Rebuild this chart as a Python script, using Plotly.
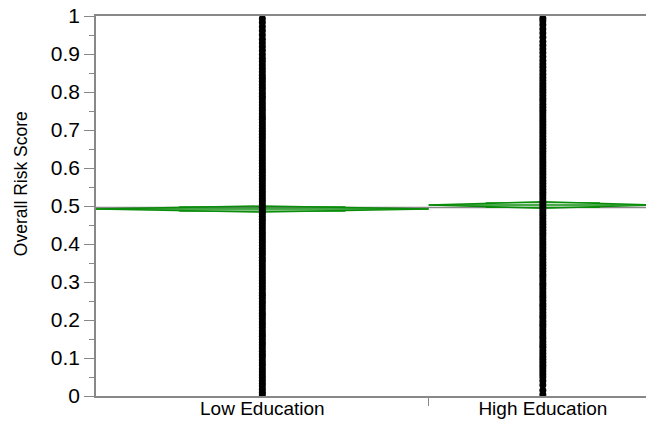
import plotly.graph_objects as go

# Groups, their sizes (column widths are proportional to n) and summary stats
groups = ["Low Education", "High Education"]
group_n = [5930, 4070]
group_means = [0.4920, 0.5026]
group_ci_half = [0.0080, 0.0085]

# Overall risk scores per group
low_scores = [
    0.003, 0.010, 0.018, 0.026, 0.033, 0.041, 0.049, 0.056, 0.064, 0.072,
    0.080, 0.087, 0.095, 0.103, 0.110, 0.118, 0.126, 0.134, 0.141, 0.149,
    0.157, 0.164, 0.172, 0.180, 0.188, 0.195, 0.203, 0.211, 0.218, 0.226,
    0.234, 0.242, 0.249, 0.257, 0.265, 0.272, 0.280, 0.288, 0.296, 0.303,
    0.311, 0.319, 0.326, 0.334, 0.342, 0.350, 0.357, 0.365, 0.373, 0.380,
    0.388, 0.396, 0.404, 0.411, 0.419, 0.427, 0.434, 0.442, 0.450, 0.458,
    0.465, 0.473, 0.481, 0.488, 0.496, 0.504, 0.512, 0.519, 0.527, 0.535,
    0.542, 0.550, 0.558, 0.566, 0.573, 0.581, 0.589, 0.596, 0.604, 0.612,
    0.620, 0.627, 0.635, 0.643, 0.650, 0.658, 0.666, 0.674, 0.681, 0.689,
    0.697, 0.704, 0.712, 0.720, 0.728, 0.735, 0.743, 0.751, 0.758, 0.766,
    0.774, 0.782, 0.789, 0.797, 0.805, 0.812, 0.820, 0.828, 0.836, 0.844,
    0.853, 0.862, 0.871, 0.880, 0.889, 0.899, 0.909, 0.919, 0.929, 0.939,
    0.950, 0.961, 0.972, 0.983, 0.993,
]
high_scores = [
    0.004, 0.015, 0.029, 0.040, 0.050, 0.058, 0.066, 0.074, 0.081, 0.089,
    0.097, 0.104, 0.112, 0.120, 0.128, 0.135, 0.143, 0.151, 0.158, 0.166,
    0.174, 0.182, 0.189, 0.197, 0.205, 0.212, 0.220, 0.228, 0.236, 0.243,
    0.251, 0.259, 0.266, 0.274, 0.282, 0.290, 0.297, 0.305, 0.313, 0.320,
    0.328, 0.336, 0.344, 0.351, 0.359, 0.367, 0.374, 0.382, 0.390, 0.398,
    0.405, 0.413, 0.421, 0.428, 0.436, 0.444, 0.452, 0.459, 0.467, 0.475,
    0.482, 0.490, 0.498, 0.506, 0.513, 0.521, 0.529, 0.536, 0.544, 0.552,
    0.560, 0.567, 0.575, 0.583, 0.590, 0.598, 0.606, 0.614, 0.621, 0.629,
    0.637, 0.644, 0.652, 0.660, 0.668, 0.675, 0.683, 0.691, 0.698, 0.706,
    0.714, 0.722, 0.729, 0.737, 0.745, 0.752, 0.760, 0.768, 0.776, 0.783,
    0.791, 0.799, 0.806, 0.814, 0.822, 0.830, 0.838, 0.847, 0.856, 0.865,
    0.874, 0.883, 0.893, 0.903, 0.913, 0.923, 0.933, 0.944, 0.955, 0.966,
    0.977, 0.987, 0.994,
]
y_ticks = [0, 0.1, 0.2, 0.3, 0.4, 0.5, 0.6, 0.7, 0.8, 0.9, 1]
y_tick_text = ["0", "0.1", "0.2", "0.3", "0.4", "0.5", "0.6", "0.7", "0.8", "0.9", "1"]
y_title = "Overall Risk Score"

GREEN = "rgb(10,140,10)"
GRAY = "rgb(136,136,136)"
FONT = "Liberation Sans, Arial, Helvetica, sans-serif"

# Column boundaries along x (proportional to group size)
edges = [0, group_n[0], group_n[0] + group_n[1]]
centers = [(edges[i] + edges[i + 1]) / 2 for i in range(2)]
total = edges[-1]
x_max = total * 550 / 561  # the right part of the last column runs past the frame

grand_mean = sum(m * n for m, n in zip(group_means, group_n)) / total

fig = go.Figure()

# Grand mean reference line
fig.add_trace(go.Scatter(
    x=[0, total], y=[grand_mean, grand_mean], mode="lines",
    line=dict(color=GRAY, width=1.5), hoverinfo="skip", showlegend=False,
))

# Means diamonds with mean line and overlap marks
for i in range(2):
    x0, x1, xc = edges[i], edges[i + 1], centers[i]
    m, h = group_means[i], group_ci_half[i]
    fig.add_trace(go.Scatter(
        x=[x0, xc, x1, xc, x0], y=[m, m + h, m, m - h, m], mode="lines",
        line=dict(color=GREEN, width=1.5), hoverinfo="skip", showlegend=False,
    ))
    fig.add_trace(go.Scatter(
        x=[x0, x1], y=[m, m], mode="lines",
        line=dict(color=GREEN, width=1.5), hoverinfo="skip", showlegend=False,
    ))
    w = (x1 - x0) / 4
    o = h / 2 ** 0.5
    for yy in (m + o, m - o):
        fig.add_trace(go.Scatter(
            x=[xc - w, xc + w], y=[yy, yy], mode="lines",
            line=dict(color=GREEN, width=1.2), hoverinfo="skip", showlegend=False,
        ))

# Individual observations
for i, scores in enumerate([low_scores, high_scores]):
    fig.add_trace(go.Scatter(
        x=[centers[i]] * len(scores), y=scores, mode="markers",
        marker=dict(color="black", size=7, line=dict(width=0)),
        showlegend=False, name=groups[i],
    ))

fig.update_layout(
    width=646, height=421,
    margin=dict(l=96, r=0, t=16, b=25),
    paper_bgcolor="white", plot_bgcolor="white",
    font=dict(family=FONT, color="black"),
    showlegend=False,
    annotations=[dict(
        text=y_title, textangle=-90, xref="paper", yref="paper",
        x=-0.136, y=0.558, xanchor="center", yanchor="middle",
        showarrow=False, font=dict(size=17.5, color="black"),
    )],
)
fig.update_xaxes(
    range=[0, x_max], showgrid=False, zeroline=False,
    showline=True, linecolor=GRAY, linewidth=1.5, mirror=True,
    tickmode="array", tickvals=centers, ticktext=groups,
    ticks="outside", ticklen=0, tickfont=dict(size=19),
    ticklabelstandoff=-6,
    minor=dict(tickmode="array", tickvals=[edges[1]], ticks="outside",
               ticklen=8, tickcolor=GRAY, tickwidth=1),
    automargin=False,
)
fig.update_yaxes(
    range=[0, 1], showgrid=False, zeroline=False,
    showline=True, linecolor=GRAY, linewidth=1.5,
    tickmode="array", tickvals=y_ticks, ticktext=y_tick_text,
    ticks="outside", ticklen=10, tickcolor=GRAY, tickwidth=1,
    tickfont=dict(size=21),
    minor=dict(dtick=0.05, ticks="outside", ticklen=5, tickcolor=GRAY, tickwidth=1),
    automargin=False,
)

fig.write_html("out.html")
